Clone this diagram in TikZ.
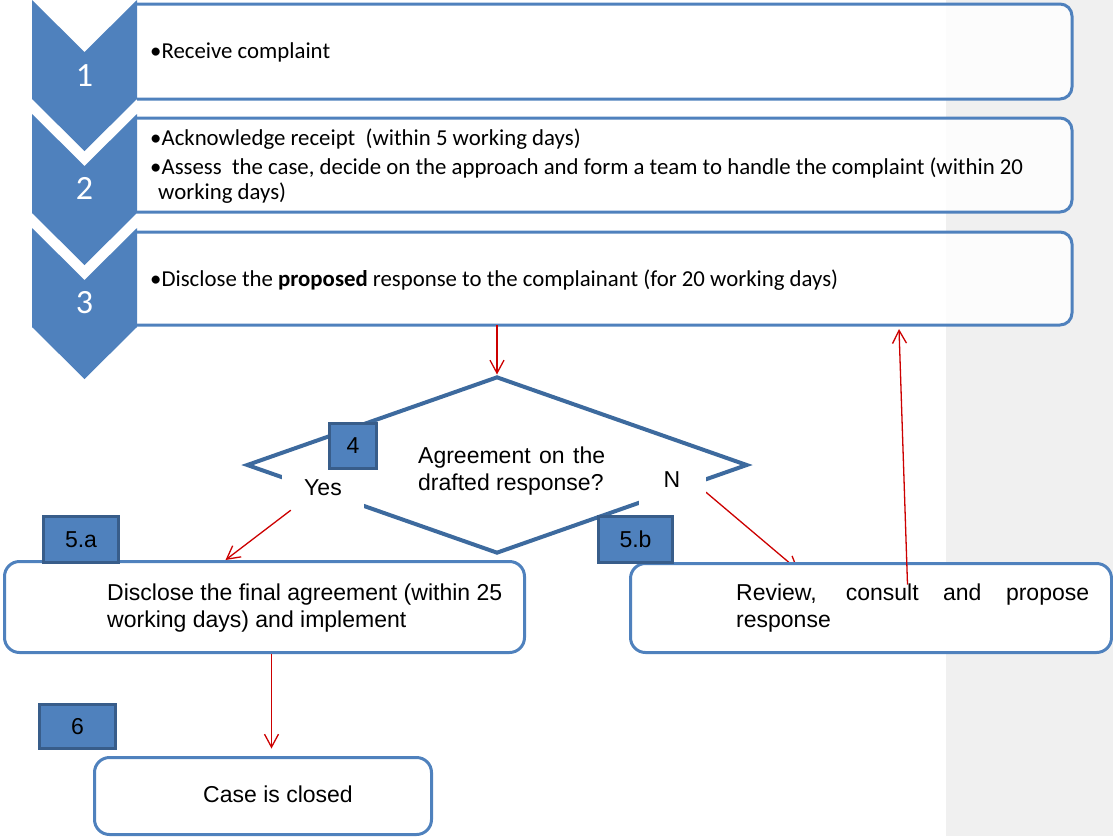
\documentclass[tikz,border=0pt]{standalone}
\usepackage{fontspec}
\setmainfont{Carlito}
\newfontfamily\arialf{Liberation Sans}
\usetikzlibrary{shapes.geometric,arrows.meta,calc}
\definecolor{cblue}{HTML}{4F81BD}
\definecolor{cdark}{HTML}{385D8A}
\definecolor{cdia}{HTML}{3D6A9E}
\definecolor{cred}{HTML}{CC0000}
\definecolor{cgray}{HTML}{F0F0F0}
\pgfdeclarelayer{bg}
\pgfsetlayers{bg,main}
\begin{document}
\begin{tikzpicture}[x=1pt,y=-1pt,
 boxfill/.style={fill=white, fill opacity=0.85, draw=none, rounded corners=12pt, inner sep=0pt, outer sep=0pt, anchor=north west, minimum width=935pt},
 boxline/.style={draw=cblue, line width=3pt},
 rbox/.style={draw=cblue, line width=3pt, fill=white, rounded corners=15pt, inner sep=0pt, anchor=north west},
 lbl/.style={draw=cdark, fill=cblue, line width=3pt, inner sep=0pt, anchor=north west, font=\arialf\fontsize{23}{27}\selectfont},
 num/.style={text=white, font=\fontsize{34}{40}\selectfont, inner sep=0pt},
 ctxt/.style={font=\fontsize{22.8}{25}\selectfont, inner sep=0pt, anchor=base west},
 atxt/.style={font=\arialf\fontsize{23}{27}\selectfont, inner sep=0pt},
 arr/.style={draw=cred, line width=1.3pt, -{Straight Barb[length=13pt,width=14pt]}},
 chev/.style={fill=cblue}
]
\useasboundingbox (0,0) rectangle (1113,836);
\begin{pgfonlayer}{bg}
\fill[cgray] (946,0) rectangle (1113,836);
\end{pgfonlayer}

% step boxes 1-3
\node[boxfill, minimum height=95pt] (b1) at (137,4) {};
\draw[boxline] (b1.north west) -- ([xshift=-12pt]b1.north east) arc[start angle=90,end angle=0,radius=12pt] -- ([yshift=12pt]b1.south east) arc[start angle=0,end angle=-90,radius=12pt] -- (b1.south west);
\node[boxfill, minimum height=94pt] (b2) at (137,118) {};
\draw[boxline] (b2.north west) -- ([xshift=-12pt]b2.north east) arc[start angle=90,end angle=0,radius=12pt] -- ([yshift=12pt]b2.south east) arc[start angle=0,end angle=-90,radius=12pt] -- (b2.south west);
\node[boxfill, minimum height=93pt] (b3) at (137,232) {};
\draw[boxline] (b3.north west) -- ([xshift=-12pt]b3.north east) arc[start angle=90,end angle=0,radius=12pt] -- ([yshift=12pt]b3.south east) arc[start angle=0,end angle=-90,radius=12pt] -- (b3.south west);

% chevrons
\fill[chev] (32,0) -- (84.5,52) -- (137,0) -- (137,99) -- (84.5,151) -- (32,99) -- cycle;
\fill[chev] (32,114) -- (84.5,166) -- (137,114) -- (137,213) -- (84.5,265) -- (32,213) -- cycle;
\fill[chev] (32,228) -- (84.5,280) -- (137,228) -- (137,327) -- (84.5,379) -- (32,327) -- cycle;
\node[num] (n1) at (84.5,75.5) {1};
\node[num] (n2) at (84.5,188.5) {2};
\node[num] (n3) at (84.5,302.5) {3};

% step texts
\node[ctxt] (t1) at (150,58) {•Receive complaint};
\node[ctxt] (t2) at (150,145) {\parbox[t]{940pt}{•Acknowledge receipt\ \ (within 5 working days)\\[4pt]•Assess\ \ the case, decide on the approach and form a team to handle the complaint (within 20\\\hspace*{8pt}working days)}};
\node[ctxt] (t3) at (150,286) {•Disclose the \textbf{proposed} response to the complainant (for 20 working days)};

% decision
\node[diamond, draw=cdia, line width=4pt, minimum width=501pt, minimum height=177pt, inner sep=0pt] (dec) at (497,465) {};
\node[atxt, anchor=base west] (q) at (418,463) {\parbox[t]{187pt}{Agreement on the\linebreak drafted response?}};
\node[atxt, anchor=base, fill=white, text height=16pt, text depth=6pt, inner ysep=9pt, minimum width=82pt] (yes) at (323,495) {Yes};
\node[atxt, anchor=base, fill=white, text height=16pt, text depth=16pt, inner ysep=9pt, minimum width=67pt] (no) at (672,487) {N};
\node[lbl, minimum width=47pt, minimum height=45pt] (l4) at (328,422) {4};

% outcome boxes
\node[rbox, minimum width=520pt, minimum height=91pt] (b5a) at (3,560) {};
\node[rbox, minimum width=481pt, minimum height=89pt] (b5b) at (629,562) {};
\node[rbox, minimum width=337pt, minimum height=77pt] (b6) at (93,756) {};
\node[atxt, anchor=base west] (t5a) at (107,600) {\parbox[t]{420pt}{Disclose the final agreement (within 25\\working days) and implement}};
\node[atxt, anchor=base west] (t5b) at (736,600) {\parbox[t]{353pt}{Review, consult and propose\linebreak response}};
\node[atxt, anchor=base] (t6) at (278,802) {Case is closed};
\node[lbl, minimum width=75pt, minimum height=46pt] (l5a) at (42,515) {5.a};
\node[lbl, minimum width=74pt, minimum height=46pt] (l5b) at (597,515) {5.b};
\node[lbl, minimum width=76pt, minimum height=44pt] (l6) at (38,703) {6};

% connectors
\draw[arr] (b3.south -| dec.north) -- (dec.north);
\draw[arr] ([xshift=9pt]yes.south west) -- ([xshift=-39pt]b5a.north);
\begin{pgfonlayer}{bg}
\draw[arr] ([yshift=-5pt]no.east) -- ([xshift=-72.5pt,yshift=-8.5pt]b5b.north);
\end{pgfonlayer}
\draw[arr] ([xshift=36.5pt,yshift=-22.5pt]b5b.north) -- ([xshift=294.5pt,yshift=-4pt]b3.south);
\draw[arr] ([xshift=7pt]b5a.south) -- ($(b6.north)+(8.5,-7.5)$);
\end{tikzpicture}
\end{document}
